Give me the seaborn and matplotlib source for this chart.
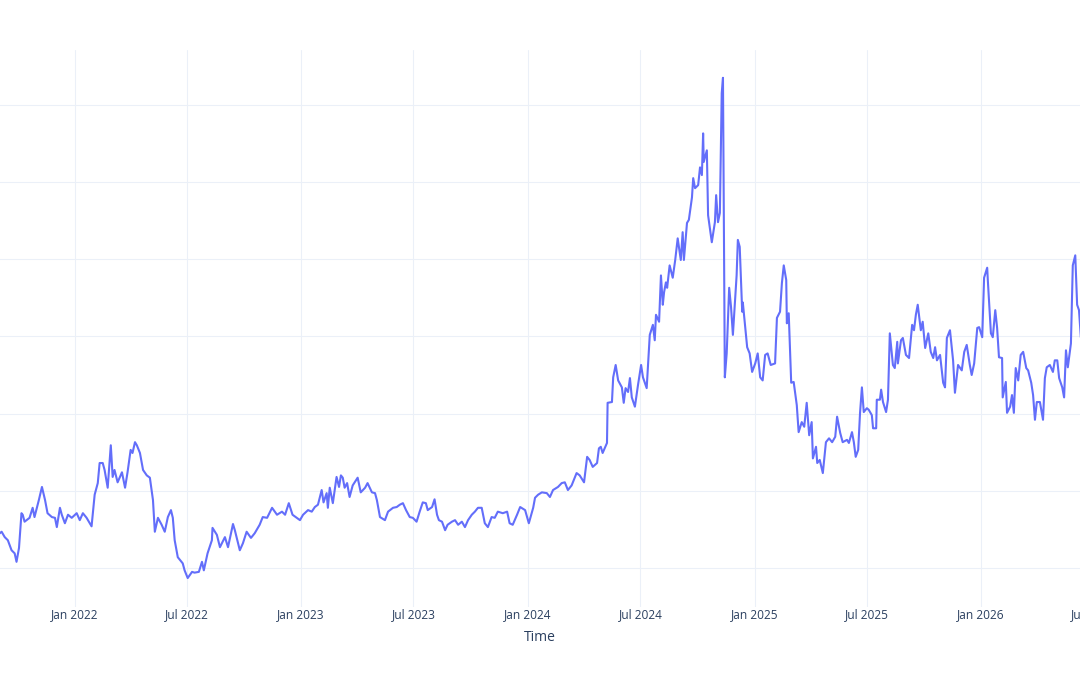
import pandas as pd
import matplotlib.pyplot as plt
import matplotlib.dates as mdates
import seaborn as sns

# Valeurs, une liste par année
dates_2021 = ["2021-08-28", "2021-09-02", "2021-09-05", "2021-09-10", "2021-09-15", "2021-09-21", "2021-09-26",
              "2021-09-29", "2021-10-03", "2021-10-07", "2021-10-09", "2021-10-12", "2021-10-20", "2021-10-25",
              "2021-10-28", "2021-11-04", "2021-11-09", "2021-11-14", "2021-11-18", "2021-11-25", "2021-11-30",
              "2021-12-03", "2021-12-08", "2021-12-11", "2021-12-16", "2021-12-21", "2021-12-27"]
values_2021 = [14.6, 14.5, 14.7, 14.0, 13.6, 12.3, 11.9, 10.8, 12.6, 17.1, 16.9, 16.0, 16.5, 17.8, 16.6,
               18.8, 20.5, 18.8, 17.1, 16.6, 16.5, 15.3, 17.8, 16.9, 15.8, 16.9, 16.5]

dates_2022 = ["2022-01-04", "2022-01-09", "2022-01-14", "2022-01-20", "2022-01-28", "2022-02-02", "2022-02-07",
              "2022-02-10", "2022-02-15", "2022-02-18", "2022-02-23", "2022-02-28", "2022-03-03", "2022-03-06",
              "2022-03-11", "2022-03-18", "2022-03-23", "2022-03-27", "2022-04-01", "2022-04-04", "2022-04-08",
              "2022-04-11", "2022-04-16", "2022-04-21", "2022-04-27", "2022-05-02", "2022-05-07", "2022-05-10",
              "2022-05-15", "2022-05-21", "2022-05-26", "2022-05-31", "2022-06-05", "2022-06-08", "2022-06-11",
              "2022-06-16", "2022-06-24", "2022-06-27", "2022-07-02", "2022-07-09", "2022-07-13", "2022-07-20",
              "2022-07-25", "2022-07-28", "2022-08-03", "2022-08-10", "2022-08-11", "2022-08-18", "2022-08-23",
              "2022-08-31", "2022-09-05", "2022-09-13", "2022-09-16", "2022-09-24", "2022-09-29", "2022-10-05",
              "2022-10-12", "2022-10-18", "2022-10-26", "2022-10-31", "2022-11-07", "2022-11-15", "2022-11-23",
              "2022-12-01", "2022-12-06", "2022-12-12", "2022-12-18", "2022-12-25", "2022-12-30"]
values_2022 = [17.1, 16.2, 17.1, 16.5, 15.4, 19.5, 21.0, 23.6, 23.6, 22.7, 20.4, 25.9, 21.8, 22.7, 21.1,
               22.4, 20.4, 22.4, 25.3, 24.9, 26.3, 25.9, 24.9, 22.7, 22.0, 21.7, 18.8, 14.7, 16.5, 15.6,
               14.7, 16.6, 17.5, 16.5, 13.6, 11.4, 10.6, 9.7, 8.7, 9.5, 9.4, 9.5, 10.8, 9.7, 11.9,
               13.6, 15.2, 14.3, 12.7, 14.0, 12.7, 15.7, 14.9, 12.3, 13.2, 14.7, 13.9, 14.5, 15.6, 16.6,
               16.5, 17.8, 16.9, 17.3, 16.9, 18.4, 16.9, 16.5, 16.2]

dates_2023 = ["2023-01-04", "2023-01-12", "2023-01-18", "2023-01-23", "2023-01-28", "2023-02-03", "2023-02-06",
              "2023-02-11", "2023-02-13", "2023-02-16", "2023-02-21", "2023-02-27", "2023-03-03", "2023-03-06",
              "2023-03-09", "2023-03-12", "2023-03-16", "2023-03-20", "2023-03-25", "2023-04-02", "2023-04-07",
              "2023-04-14", "2023-04-18", "2023-04-25", "2023-04-30", "2023-05-03", "2023-05-08", "2023-05-16",
              "2023-05-21", "2023-05-29", "2023-06-04", "2023-06-09", "2023-06-14", "2023-06-19", "2023-06-25",
              "2023-06-30", "2023-07-06", "2023-07-11", "2023-07-16", "2023-07-21", "2023-07-24", "2023-07-31",
              "2023-08-04", "2023-08-08", "2023-08-11", "2023-08-16", "2023-08-21", "2023-08-25", "2023-09-01",
              "2023-09-06", "2023-09-11", "2023-09-17", "2023-09-22", "2023-09-27", "2023-10-03", "2023-10-08",
              "2023-10-13", "2023-10-19", "2023-10-24", "2023-10-29", "2023-11-04", "2023-11-09", "2023-11-14",
              "2023-11-22", "2023-11-29", "2023-12-03", "2023-12-08", "2023-12-15", "2023-12-20", "2023-12-28"]
values_2023 = [16.9, 17.5, 17.3, 17.9, 18.2, 20.1, 18.5, 19.7, 17.8, 20.4, 18.4, 21.8, 20.5, 22.0, 21.7,
               20.4, 21.0, 19.2, 20.7, 21.7, 19.8, 20.4, 21.0, 19.8, 19.7, 18.8, 16.6, 16.2, 17.3, 17.8,
               17.9, 18.2, 18.4, 17.5, 16.6, 16.5, 16.0, 17.3, 18.5, 18.4, 17.5, 17.9, 18.9, 16.9, 16.2,
               16.0, 14.9, 15.6, 16.0, 16.2, 15.6, 16.0, 15.3, 16.2, 16.9, 17.3, 17.8, 17.8, 15.8, 15.3,
               16.6, 16.5, 17.3, 17.1, 17.3, 15.8, 15.6, 16.9, 17.9, 17.5]

dates_2024 = ["2024-01-03", "2024-01-10", "2024-01-13", "2024-01-18", "2024-01-24", "2024-02-01", "2024-02-06",
              "2024-02-11", "2024-02-19", "2024-02-25", "2024-03-01", "2024-03-06", "2024-03-12", "2024-03-20",
              "2024-03-25", "2024-04-01", "2024-04-06", "2024-04-10", "2024-04-15", "2024-04-22", "2024-04-25",
              "2024-04-28", "2024-05-01", "2024-05-08", "2024-05-09", "2024-05-16", "2024-05-18", "2024-05-22",
              "2024-05-26", "2024-06-01", "2024-06-04", "2024-06-07", "2024-06-11", "2024-06-14", "2024-06-17",
              "2024-06-22", "2024-06-27", "2024-07-02", "2024-07-05", "2024-07-11", "2024-07-16", "2024-07-21",
              "2024-07-24", "2024-07-26", "2024-07-31", "2024-08-03", "2024-08-06", "2024-08-08", "2024-08-11",
              "2024-08-13", "2024-08-17", "2024-08-22", "2024-08-26", "2024-08-30", "2024-09-04", "2024-09-07",
              "2024-09-09", "2024-09-14", "2024-09-17", "2024-09-22", "2024-09-24", "2024-09-27", "2024-10-02",
              "2024-10-05", "2024-10-08", "2024-10-10", "2024-10-11", "2024-10-16", "2024-10-18", "2024-10-24",
              "2024-10-29", "2024-10-31", "2024-11-03", "2024-11-06", "2024-11-09", "2024-11-11", "2024-11-14",
              "2024-11-17", "2024-11-21", "2024-11-24", "2024-11-27", "2024-12-03", "2024-12-05", "2024-12-08",
              "2024-12-12", "2024-12-13", "2024-12-20", "2024-12-24", "2024-12-28"]
values_2024 = [15.8, 17.8, 19.1, 19.5, 19.8, 19.7, 19.2, 20.1, 20.5, 21.0, 21.1, 20.1, 20.7, 22.3, 22.0,
               21.1, 24.4, 24.0, 23.1, 23.6, 25.5, 25.7, 24.9, 26.2, 31.4, 31.5, 34.7, 36.3, 34.3, 33.4,
               31.4, 33.3, 32.8, 34.6, 32.1, 30.9, 33.7, 36.3, 34.7, 33.3, 40.2, 41.5, 39.5, 42.8, 41.9,
               47.9, 44.1, 45.7, 47.0, 46.3, 49.2, 47.6, 49.9, 52.7, 49.9, 53.5, 49.9, 54.7, 55.1, 58.0,
               60.5, 59.2, 59.6, 61.9, 60.9, 66.3, 62.6, 64.1, 55.7, 52.2, 54.8, 58.3, 54.8, 56.0, 71.5,
               73.5, 34.7, 37.8, 46.3, 43.8, 40.2, 47.9, 52.5, 51.6, 43.2, 44.4, 38.6, 37.8, 35.4]

dates_2025 = ["2025-01-02", "2025-01-06", "2025-01-10", "2025-01-14", "2025-01-18", "2025-01-22", "2025-01-27",
              "2025-02-03", "2025-02-06", "2025-02-11", "2025-02-14", "2025-02-17", "2025-02-21", "2025-02-22",
              "2025-02-25", "2025-03-01", "2025-03-05", "2025-03-10", "2025-03-13", "2025-03-18", "2025-03-22",
              "2025-03-26", "2025-03-30", "2025-04-03", "2025-04-05", "2025-04-10", "2025-04-12", "2025-04-16",
              "2025-04-21", "2025-04-26", "2025-05-01", "2025-05-06", "2025-05-11", "2025-05-14", "2025-05-19",
              "2025-05-23", "2025-05-30", "2025-06-02", "2025-06-07", "2025-06-10", "2025-06-13", "2025-06-17",
              "2025-06-20", "2025-06-23", "2025-06-26", "2025-07-01", "2025-07-04", "2025-07-09", "2025-07-11",
              "2025-07-16", "2025-07-17", "2025-07-22", "2025-07-24", "2025-07-27", "2025-08-01", "2025-08-04",
              "2025-08-07", "2025-08-12", "2025-08-15", "2025-08-19", "2025-08-20", "2025-08-25", "2025-08-28",
              "2025-09-02", "2025-09-07", "2025-09-12", "2025-09-15", "2025-09-18", "2025-09-21", "2025-09-26",
              "2025-09-29", "2025-10-03", "2025-10-08", "2025-10-12", "2025-10-16", "2025-10-19", "2025-10-22",
              "2025-10-27", "2025-11-01", "2025-11-04", "2025-11-07", "2025-11-12", "2025-11-17", "2025-11-20",
              "2025-11-25", "2025-12-01", "2025-12-05", "2025-12-09", "2025-12-14", "2025-12-17", "2025-12-21",
              "2025-12-26", "2025-12-29"]
values_2025 = [36.5, 37.8, 34.7, 34.3, 37.6, 37.8, 36.3, 36.5, 42.4, 43.2, 46.9, 49.2, 47.3, 41.7, 43.0,
               34.0, 34.1, 31.1, 27.6, 28.9, 28.3, 31.4, 27.2, 28.9, 24.2, 25.7, 23.6, 24.0, 22.3, 26.3,
               26.8, 26.3, 27.0, 29.6, 27.5, 26.3, 26.6, 26.2, 27.6, 26.3, 24.4, 25.3, 30.1, 33.4, 30.2,
               30.7, 30.5, 29.8, 28.1, 28.1, 31.8, 31.8, 33.1, 31.5, 30.2, 31.8, 40.4, 36.3, 35.9, 39.3,
               36.5, 39.5, 39.8, 37.6, 37.2, 41.5, 40.8, 42.8, 44.1, 40.8, 41.9, 38.5, 40.4, 38.0, 37.2,
               38.6, 36.9, 37.6, 34.0, 33.4, 39.8, 40.8, 36.9, 32.7, 36.3, 35.6, 38.0, 38.9, 36.3, 35.0,
               36.5, 41.1, 41.2]

dates_2026 = ["2026-01-03", "2026-01-06", "2026-01-11", "2026-01-12", "2026-01-17", "2026-01-20", "2026-01-24",
              "2026-01-27", "2026-01-30", "2026-02-04", "2026-02-05", "2026-02-10", "2026-02-12", "2026-02-17",
              "2026-02-20", "2026-02-23", "2026-02-26", "2026-03-02", "2026-03-06", "2026-03-10", "2026-03-15",
              "2026-03-18", "2026-03-23", "2026-03-26", "2026-03-29", "2026-04-01", "2026-04-06", "2026-04-11",
              "2026-04-14", "2026-04-17", "2026-04-22", "2026-04-27", "2026-04-30", "2026-05-04", "2026-05-07",
              "2026-05-12", "2026-05-15", "2026-05-18", "2026-05-21", "2026-05-26", "2026-05-29", "2026-06-02",
              "2026-06-05", "2026-06-08", "2026-06-11", "2026-06-17"]
values_2026 = [39.9, 47.6, 48.9, 47.3, 40.4, 39.9, 43.4, 41.1, 37.3, 37.2, 32.1, 34.1, 30.1, 30.9, 32.4,
               30.1, 35.9, 34.3, 37.6, 38.0, 35.9, 35.6, 34.0, 32.4, 29.2, 31.5, 31.5, 29.2, 34.6, 36.0,
               36.3, 35.4, 36.9, 36.9, 34.6, 33.4, 32.1, 38.2, 36.0, 39.1, 49.2, 50.5, 44.1, 43.4, 39.9,
               38.9]

dates = dates_2021 + dates_2022 + dates_2023 + dates_2024 + dates_2025 + dates_2026
values = values_2021 + values_2022 + values_2023 + values_2024 + values_2025 + values_2026

df = pd.DataFrame({"Time": pd.to_datetime(dates), "value": values})

sns.set_theme(style="white")
plt.rcParams["font.family"] = ["Open Sans", "DejaVu Sans"]

fig = plt.figure(figsize=(10.8, 6.75), dpi=100)
# zone de tracé plus large que la figure (le graphique d'origine est rogné)
ax = fig.add_axes([-30 / 1080, 68 / 675, 1140 / 1080, 557 / 675])

sns.lineplot(data=df, x="Time", y="value", ax=ax, color="#636efa", linewidth=1.5)

ax.set_xlim(pd.Timestamp("2021-07-16"), pd.Timestamp("2026-07-28"))
ax.set_ylim(4.95, 77.1)
ax.set_yticks([10, 20, 30, 40, 50, 60, 70])
ax.xaxis.set_major_locator(mdates.MonthLocator(bymonth=[1, 7]))
ax.xaxis.set_major_formatter(mdates.DateFormatter("%b %Y"))

ax.grid(True, color="#ebf0f8", linewidth=0.75)
ax.set_axisbelow(True)
for spine in ax.spines.values():
    spine.set_visible(False)

ax.tick_params(axis="x", length=0, pad=0.5, labelsize=8.6, labelcolor="#2a3f5f")
ax.tick_params(axis="y", length=0, labelleft=False)
ax.set_xlabel("Time", fontsize=10, color="#2a3f5f", labelpad=7)
ax.set_ylabel("")

fig.savefig("out.png", dpi=100)
